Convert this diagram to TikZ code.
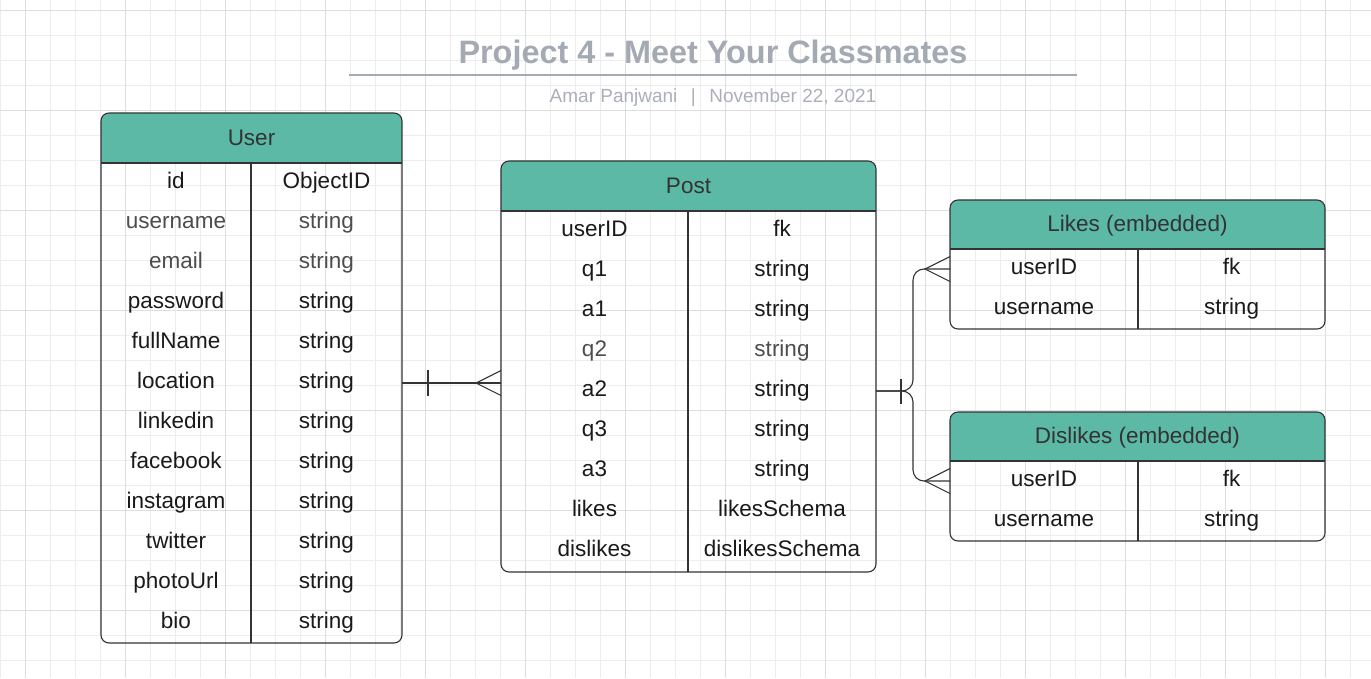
\documentclass[tikz,border=0pt]{standalone}
\usepackage{fontspec}
\setmainfont{Liberation Sans}
\usetikzlibrary{calc}
\definecolor{hdr}{HTML}{5CB9A6}
\definecolor{gridminor}{HTML}{EDEDED}
\definecolor{gridmajor}{HTML}{DEDEDE}
\definecolor{linec}{HTML}{333333}
\definecolor{txt}{HTML}{1A1A1A}
\definecolor{txtg}{HTML}{4D4D4D}
\definecolor{hdrtxt}{HTML}{333333}
\definecolor{titlec}{HTML}{A4AAB3}
\definecolor{sublc}{HTML}{ABB0B8}
\tikzset{
  cell/.style={inner sep=0pt, font=\fontsize{22.5}{27}\selectfont, text height=16pt, text depth=5pt, text=txt},
  hdrtext/.style={cell, text=hdrtxt},
  frame/.style={draw=linec, line width=1.1pt, rounded corners=8pt, inner sep=0pt, outer sep=0pt, anchor=north west},
  sep/.style={draw=linec, line width=1.1pt},
  conn/.style={draw=linec, line width=1.1pt},
}
\begin{document}
\begin{tikzpicture}[x=1pt,y=-1pt]
\useasboundingbox (0,0) rectangle (1371,678);
\fill[white] (0,0) rectangle (1371,678);
% grid
\foreach \x in {0,25,...,1375} \draw[gridminor, line width=1pt] (\x,0) -- (\x,678);
\foreach \y in {10,35,...,678} \draw[gridminor, line width=1pt] (0,\y) -- (1371,\y);
\foreach \x in {25,125,...,1371} \draw[gridmajor, line width=1pt] (\x,0) -- (\x,678);
\foreach \y in {10,110,...,678} \draw[gridmajor, line width=1pt] (0,\y) -- (1371,\y);

% title
\node[inner sep=0pt, text=titlec, font=\fontsize{32.4}{38}\selectfont\bfseries] (title) at (713,55) {Project 4 - Meet Your Classmates};
\draw[titlec, line width=2.2pt] (349,75) -- (1077,75);
\node[inner sep=0pt, text=sublc, font=\fontsize{19}{23}\selectfont] (sub) at (713,98) {Amar Panjwani\hspace{13.5pt}|\hspace{13.5pt}November 22, 2021};

% ---------- User table
\begin{scope}
\clip[rounded corners=8pt] (101,113) rectangle (402,643);
\fill[hdr] (101,113) rectangle (402,163);
\end{scope}
\node[frame, minimum width=301pt, minimum height=530pt] (user) at (101,113) {};
\draw[sep] (101,163) -- (402,163);
\draw[sep] (251,163) -- (251,643);
\node[hdrtext] (userH) at (251.5,139.5) {User};
\foreach \a/\b/\c [count=\i from 0] in {id/ObjectID/txt, username/string/txtg, email/string/txtg, password/string/txt, fullName/string/txt, location/string/txt, linkedin/string/txt, facebook/string/txt, instagram/string/txt, twitter/string/txt, photoUrl/string/txt, bio/string/txt}{
  \node[cell, text=\c] (user-a\i) at (176,{183+40*\i}) {\a};
  \node[cell, text=\c] (user-b\i) at (326.5,{183+40*\i}) {\b};
}

% ---------- Post table
\begin{scope}
\clip[rounded corners=8pt] (501,161) rectangle (876,572);
\fill[hdr] (501,161) rectangle (876,211);
\end{scope}
\node[frame, minimum width=375pt, minimum height=411pt] (post) at (501,161) {};
\draw[sep] (501,211) -- (876,211);
\draw[sep] (688,211) -- (688,572);
\node[hdrtext] (postH) at (688.5,187.5) {Post};
\foreach \a/\b/\c [count=\i from 0] in {userID/fk/txt, q1/string/txt, a1/string/txt, q2/string/txtg, a2/string/txt, q3/string/txt, a3/string/txt, likes/likesSchema/txt, dislikes/dislikesSchema/txt}{
  \node[cell, text=\c] (post-a\i) at (594.5,{231+40*\i}) {\a};
  \node[cell, text=\c] (post-b\i) at (782,{231+40*\i}) {\b};
}

% ---------- Likes table
\begin{scope}
\clip[rounded corners=8pt] (950,200) rectangle (1325,329);
\fill[hdr] (950,200) rectangle (1325,249);
\end{scope}
\node[frame, minimum width=375pt, minimum height=129pt] (likes) at (950,200) {};
\draw[sep] (950,249) -- (1325,249);
\draw[sep] (1138,249) -- (1138,329);
\node[hdrtext] (likesH) at (1137.5,225.5) {Likes (embedded)};
\node[cell] (likes-a0) at (1044,269) {userID};
\node[cell] (likes-b0) at (1231.5,269) {fk};
\node[cell] (likes-a1) at (1044,309) {username};
\node[cell] (likes-b1) at (1231.5,309) {string};

% ---------- Dislikes table
\begin{scope}
\clip[rounded corners=8pt] (950,412) rectangle (1325,541);
\fill[hdr] (950,412) rectangle (1325,461);
\end{scope}
\node[frame, minimum width=375pt, minimum height=129pt] (dislikes) at (950,412) {};
\draw[sep] (950,461) -- (1325,461);
\draw[sep] (1138,461) -- (1138,541);
\node[hdrtext] (dislikesH) at (1137.5,437.5) {Dislikes (embedded)};
\node[cell] (dislikes-a0) at (1044,481) {userID};
\node[cell] (dislikes-b0) at (1231.5,481) {fk};
\node[cell] (dislikes-a1) at (1044,521) {username};
\node[cell] (dislikes-b1) at (1231.5,521) {string};

% ---------- connectors
% User -- Post (one to many)
\draw[conn] (user.east |- 0,383) -- (post.west |- 0,383);
\draw[conn] (428,370) -- (428,396);
\coordinate (cf1) at (476,383);
\draw[conn] (post.west |- 0,370.5) -- (cf1) -- (post.west |- 0,395.5);

% Post -- Likes / Dislikes
\coordinate (jn) at (913,391);
\draw[conn, rounded corners=11pt] (post.east |- 0,391) -- (jn) -- (913,269) -- (likes.west |- 0,269);
\draw[conn, rounded corners=11pt] (post.east |- 0,391) -- (jn) -- (913,481) -- (dislikes.west |- 0,481);
\draw[conn] (901,379) -- (901,404);
\coordinate (cf2) at (925,269);
\draw[conn] (likes.west |- 0,256.5) -- (cf2) -- (likes.west |- 0,281.5);
\coordinate (cf3) at (925,481);
\draw[conn] (dislikes.west |- 0,468.5) -- (cf3) -- (dislikes.west |- 0,493.5);
\end{tikzpicture}
\end{document}
